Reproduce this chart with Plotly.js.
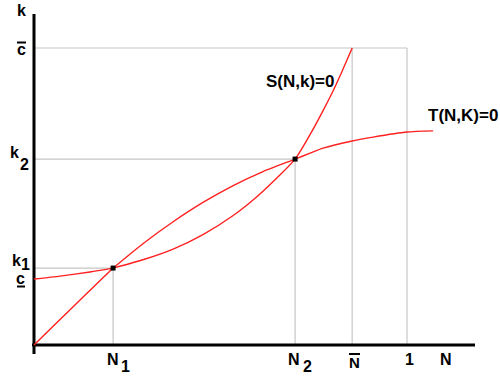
<!DOCTYPE html>
<html><head><meta charset="utf-8">
<script src="https://cdn.plot.ly/plotly-3.0.1.min.js"></script>
<style>body{margin:0;background:#fff}#chart{width:500px;height:377px}</style>
</head><body><div id="chart"></div>
<script>
// key values (N axis: 1 = full population; k axis: c-bar = 1)
const N1 = 0.212, N2 = 0.700, Nbar = 0.853, None = 1.0;
const k1 = 0.259, k2 = 0.626, cbar = 1.0, cund = 0.222;

// S(N,k)=0 curve (index 3 = first equilibrium)
const sN = [0, 0.056, 0.131, 0.212, 0.292, 0.373, 0.453, 0.534, 0.614, 0.700, 0.740, 0.775, 0.802, 0.826, 0.842, 0.853];
const sK = [0, 0.069, 0.161, 0.259, 0.287, 0.323, 0.372, 0.436, 0.518, 0.626, 0.708, 0.789, 0.856, 0.922, 0.968, 1.0];

// T(N,K)=0 curve (index 3 = first equilibrium)
const tN = [0, 0.070, 0.150, 0.212, 0.292, 0.373, 0.453, 0.534, 0.614, 0.700, 0.740, 0.775, 0.853, 0.909, 1.0, 1.070];
const tK = [0.222, 0.232, 0.246, 0.259, 0.341, 0.415, 0.480, 0.537, 0.584, 0.626, 0.646, 0.663, 0.687, 0.700, 0.717, 0.721];

// full-page plot area mapping (layout helpers only)
const PX0 = 34, PXU = 373, PY0 = 345, PYU = 297;
const X = px => (px - PX0) / PXU;
const Y = py => (PY0 - py) / PYU;

const FONT = 'Liberation Sans, Arial, sans-serif';
const GRAY = '#c6c6c6';
const RED = {color: '#ff2020', width: 1.4, shape: 'spline', smoothing: 0.6};

const traces = [
  {x: sN.slice(0, 4), y: sK.slice(0, 4), mode: 'lines', line: RED, hoverinfo: 'skip'},
  {x: sN.slice(3), y: sK.slice(3), mode: 'lines', line: RED, hoverinfo: 'skip'},
  {x: tN.slice(0, 4), y: tK.slice(0, 4), mode: 'lines', line: RED, hoverinfo: 'skip'},
  {x: tN.slice(3), y: tK.slice(3), mode: 'lines', line: RED, hoverinfo: 'skip'},
  {x: [N1, N2], y: [k1, k2], mode: 'markers', marker: {symbol: 'square', size: 5, color: '#000'}, hoverinfo: 'skip'}
];

function seg(x0, y0, x1, y1, color, w) {
  return {type: 'line', xref: 'x', yref: 'y', x0, y0, x1, y1, line: {color, width: w}, layer: 'below'};
}
const shapes = [
  seg(0, cbar, None, cbar, GRAY, 1.2),
  seg(None, 0, None, cbar, GRAY, 1.2),
  seg(Nbar, 0, Nbar, cbar, GRAY, 1.2),
  seg(0, k2, N2, k2, GRAY, 1.2),
  seg(N2, 0, N2, k2, GRAY, 1.2),
  seg(0, k1, N1, k1, GRAY, 1.2),
  seg(N1, 0, N1, k1, GRAY, 1.2),
  // axes
  seg(0, Y(354), 0, Y(14), '#000', 3),
  seg(X(32), 0, X(475), 0, '#000', 3),
  // overlines / underline
  seg(X(17), Y(42.5), X(26), Y(42.5), '#000', 2),
  seg(X(349), Y(354), X(360), Y(354), '#000', 2),
  seg(X(17), Y(286.5), X(25), Y(286.5), '#000', 2)
];

function lab(text, px, pyc, size) {
  return {text: '<b>' + text + '</b>', x: X(px), y: Y(pyc), xref: 'x', yref: 'y', showarrow: false,
    xanchor: 'center', yanchor: 'middle', font: {family: FONT, size: size || 16, color: '#000', weight: 'bold'}};
}
const annotations = [
  lab('k', 21.5, 10.5),
  lab('c', 21, 49),
  lab('k', 14, 152.5), lab('2', 24.5, 164.5),
  lab('k', 16, 260.5), lab('1', 25, 264.5),
  lab('c', 20.5, 278.5),
  lab('N', 113, 359.5), lab('1', 125, 366.5),
  lab('N', 294, 359.5), lab('2', 307.5, 366.5),
  lab('N', 354.5, 362.5, 15),
  lab('1', 409.5, 359.5),
  lab('N', 446, 359.5),
  lab('S(N,k)=0', 300, 81.5, 17),
  lab('T(N,K)=0', 462.5, 115, 17)
];

const layout = {
  width: 500, height: 377,
  margin: {l: 0, r: 0, t: 0, b: 0},
  paper_bgcolor: '#fff', plot_bgcolor: '#fff',
  showlegend: false,
  xaxis: {range: [X(0), X(500)], visible: false, fixedrange: true},
  yaxis: {range: [Y(377), Y(0)], visible: false, fixedrange: true},
  shapes, annotations
};
Plotly.newPlot('chart', traces, layout, {displayModeBar: false, staticPlot: true});
</script></body></html>
